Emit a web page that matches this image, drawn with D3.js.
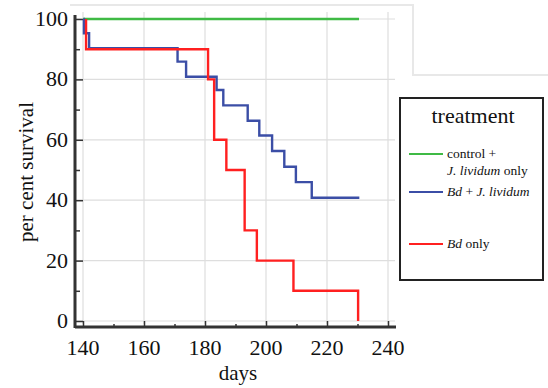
<!DOCTYPE html>
<html>
<head>
<meta charset="utf-8">
<script src="https://cdn.jsdelivr.net/npm/d3@7"></script>
<style>
  body { margin: 0; background: #fff; }
</style>
</head>
<body>
<svg id="chart" width="548" height="388"></svg>
<script>
// survival curves as [day, percent] step points
const controlSteps = [[140, 100], [230.5, 100]];
const bothSteps = [
  [140.2, 100], [140.3, 95.3], [142, 90.3], [171, 85.9], [173.8, 80.9],
  [183.8, 76.5], [186, 71.4], [194, 66.3], [197.8, 61.4], [202, 56.3],
  [206, 51.1], [209.8, 46], [215, 40.8], [230.6, 40.8]
];
const bdSteps = [
  [141, 100], [141, 90], [181, 80], [183, 60], [187, 50], [193, 30],
  [197, 20], [209, 10], [230.2, 0]
];
const xTicks = [140, 160, 180, 200, 220, 240];
const yTicks = [0, 20, 40, 60, 80, 100];
const legendItems = [
  { color: "#3fba45", lines: [[["control +", false]], [["J. lividum", true], [" only", false]]] },
  { color: "#3b4ea6", lines: [[["Bd", true], [" + ", false], ["J. lividum", true]]] },
  { color: "#ff2020", lines: [[["Bd", true], [" only", false]]] }
];

const SERIF = "'Liberation Serif', 'Times New Roman', 'DejaVu Serif', serif";

var svg = d3.select("#chart");

var x = d3.scaleLinear().domain([140, 240]).range([83, 388]);
var y = d3.scaleLinear().domain([0, 100]).range([321, 19]);

function label(sel) {
  return sel.style("font-family", SERIF).attr("fill", "#111");
}

// faint frame around plot area
svg.append("path")
    .attr("d", "M70,5H413V75H548")
    .attr("fill", "none")
    .attr("stroke", "#e8e8e8")
    .attr("stroke-width", 2);

// grid
svg.append("g").selectAll("line")
    .data(xTicks)
  .enter().append("line")
    .attr("x1", x).attr("x2", x)
    .attr("y1", 12).attr("y2", 324)
    .attr("stroke", "#dedede")
    .attr("stroke-width", 1.2);

svg.append("g").selectAll("line")
    .data(yTicks)
  .enter().append("line")
    .attr("x1", 76).attr("x2", 395)
    .attr("y1", y).attr("y2", y)
    .attr("stroke", "#dedede")
    .attr("stroke-width", 1.2);

// axes (offset from the data area)
var xAxis = d3.axisTop(x)
    .tickValues(d3.range(140, 241, 10))
    .tickSize(5)
    .tickFormat("");
var gx = svg.append("g").attr("transform", "translate(0,327)").call(xAxis);
gx.select(".domain").attr("d", "M75,0H396").attr("stroke", "#333").attr("stroke-width", 3);
gx.selectAll(".tick line")
    .attr("stroke", "#333").attr("stroke-width", 1.5)
    .attr("y2", function(d) { return d % 20 ? -3 : -6; });

var yAxis = d3.axisRight(y)
    .tickValues(d3.range(0, 101, 10))
    .tickSize(5)
    .tickFormat("");
var gy = svg.append("g").attr("transform", "translate(75,0)").call(yAxis);
gy.select(".domain").attr("d", "M0,15V328").attr("stroke", "#333").attr("stroke-width", 3);
gy.selectAll(".tick line")
    .attr("stroke", "#333").attr("stroke-width", 1.5)
    .attr("x2", function(d) { return d % 20 ? 5 : 8; });

// tick labels
svg.append("g").selectAll("text")
    .data(xTicks)
  .enter().append("text")
    .call(label)
    .attr("x", x).attr("y", 355)
    .attr("text-anchor", "middle")
    .style("font-size", "22px")
    .text(function(d) { return d; });

svg.append("g").selectAll("text")
    .data(yTicks)
  .enter().append("text")
    .call(label)
    .attr("x", 68).attr("y", function(d) { return y(d) + 7; })
    .attr("text-anchor", "end")
    .style("font-size", "22px")
    .text(function(d) { return d; });

// axis titles
svg.append("text")
    .call(label)
    .attr("x", 238).attr("y", 380)
    .attr("text-anchor", "middle")
    .style("font-size", "21px")
    .text("days");

svg.append("text")
    .call(label)
    .attr("transform", "translate(33,172) rotate(-90)")
    .attr("text-anchor", "middle")
    .style("font-size", "21px")
    .text("per cent survival");

// survival curves
var line = d3.line()
    .x(function(d) { return x(d[0]); })
    .y(function(d) { return y(d[1]); })
    .curve(d3.curveStepAfter);

[[controlSteps, legendItems[0].color],
 [bothSteps, legendItems[1].color],
 [bdSteps, legendItems[2].color]].forEach(function(s) {
  svg.append("path")
      .datum(s[0])
      .attr("d", line)
      .attr("fill", "none")
      .attr("stroke", s[1])
      .attr("stroke-width", 2.4);
});

// legend
var lg = svg.append("g");
lg.append("rect")
    .attr("x", 400).attr("y", 98)
    .attr("width", 143).attr("height", 182)
    .attr("fill", "#fff")
    .attr("stroke", "#222")
    .attr("stroke-width", 2);
lg.append("text")
    .call(label)
    .attr("x", 473).attr("y", 123)
    .attr("text-anchor", "middle")
    .style("font-size", "22px")
    .text("treatment");

var rowY = [154, 192, 244];
legendItems.forEach(function(item, i) {
  lg.append("line")
      .attr("x1", 409).attr("x2", 443)
      .attr("y1", rowY[i]).attr("y2", rowY[i])
      .attr("stroke", item.color)
      .attr("stroke-width", 2);
  item.lines.forEach(function(ln, j) {
    var t = lg.append("text")
        .call(label)
        .attr("x", 447)
        .attr("y", rowY[i] + 4 + j * 17)
        .style("font-size", "13.5px");
    ln.forEach(function(part) {
      t.append("tspan")
          .style("font-style", part[1] ? "italic" : "normal")
          .text(part[0]);
    });
  });
});
</script>
</body>
</html>
